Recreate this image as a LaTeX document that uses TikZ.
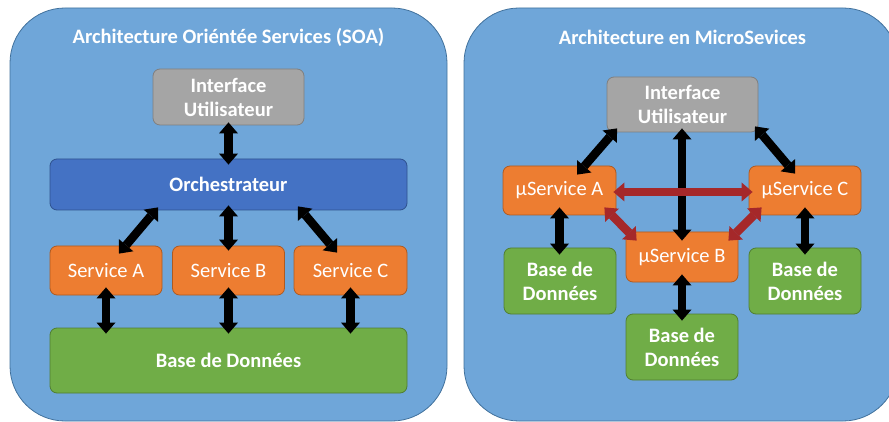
\documentclass[tikz,border=0pt]{standalone}
\usepackage{fontspec}
\setmainfont{Carlito}
\usetikzlibrary{arrows.meta,calc}
\definecolor{panelfill}{HTML}{6FA6D9}
\definecolor{paneledge}{HTML}{41719C}
\definecolor{uifill}{HTML}{A5A5A5}
\definecolor{uiedge}{HTML}{7F7F7F}
\definecolor{orchfill}{HTML}{4472C4}
\definecolor{orchedge}{HTML}{2F528F}
\definecolor{svcfill}{HTML}{ED7D31}
\definecolor{svcedge}{HTML}{AE5A21}
\definecolor{dbfill}{HTML}{70AD47}
\definecolor{dbedge}{HTML}{507E32}
\definecolor{arrowred}{HTML}{A5282A}
\tikzset{
  panel/.style={fill=panelfill, draw=paneledge, line width=0.8pt, rounded corners=55pt},
  paneltitle/.style={text=white, font=\fontsize{20.5}{24}\selectfont\bfseries},
  box/.style={rounded corners=7pt, line width=0.8pt, inner sep=0pt, text=white, align=center},
  uibox/.style={box, fill=uifill, draw=uiedge, font=\fontsize{20.5}{24}\selectfont\bfseries},
  orchbox/.style={box, fill=orchfill, draw=orchedge, font=\fontsize{20.5}{24}\selectfont\bfseries},
  svcbox/.style={box, fill=svcfill, draw=svcedge, font=\fontsize{20.5}{24}\selectfont},
  dbbox/.style={box, fill=dbfill, draw=dbedge, font=\fontsize{20.5}{24}\selectfont\bfseries},
  biarrow/.style={line width=8.5pt, draw=black,
    {Triangle[width=19pt,length=11pt,line width=0pt]}-{Triangle[width=19pt,length=11pt,line width=0pt]}},
  redarrow/.style={biarrow, draw=arrowred}
}
\begin{document}
\begin{tikzpicture}[x=1pt,y=-1pt]
\useasboundingbox (0,0) rectangle (889,422);
\begin{scope}
\clip (0,0) rectangle (889,422);
\draw[panel] (10,8) rectangle (447,421);
\draw[panel] (464,8) rectangle (898,421);
\end{scope}
\node[paneltitle] (t1) at (228.5,37) {Architecture Oriéntée Services (SOA)};
\node[paneltitle] (t2) at (682.5,37) {Architecture en MicroSevices};

% Left panel
\node[uibox, minimum width=151pt, minimum height=56pt] (iu) at (228.5,97) {Interface\\Utilisateur};
\node[orchbox, minimum width=357pt, minimum height=51pt] (orch) at (228.5,184.5) {Orchestrateur};
\node[svcbox, minimum width=112pt, minimum height=49pt] (sa) at (106,270.5) {Service A};
\node[svcbox, minimum width=112pt, minimum height=49pt] (sb) at (228.5,270.5) {Service B};
\node[svcbox, minimum width=113pt, minimum height=49pt] (sc) at (350.5,270.5) {Service C};
\node[dbbox, minimum width=357pt, minimum height=65pt] (db) at (228.5,360.5) {Base de Données};

\draw[biarrow] ($(iu.south)+(0,-3)$) -- ($(orch.north)+(0,6)$);
\draw[biarrow] ($(orch.south)+(-70.5,-3)$) -- ($(sa.north)+(13,8)$);
\draw[biarrow] ($(orch.south)+(0,-5)$) -- ($(sb.north)+(0,5)$);
\draw[biarrow] ($(orch.south)+(69.5,-4)$) -- ($(sc.north)+(-13.5,7)$);
\draw[biarrow] ($(sa.south)+(0,-8)$) -- ($(sa.south|-db.north)+(0,6)$);
\draw[biarrow] ($(sb.south)+(0,-8)$) -- ($(sb.south|-db.north)+(0,6)$);
\draw[biarrow] ($(sc.south)+(0,-8)$) -- ($(sc.south|-db.north)+(0,6)$);

% Right panel
\node[uibox, minimum width=151pt, minimum height=55pt] (iu2) at (682.5,104.5) {Interface\\Utilisateur};
\node[svcbox, minimum width=113pt, minimum height=49pt] (ma) at (559.5,190.5) {µService A};
\node[svcbox, minimum width=112pt, minimum height=49pt] (mc) at (805,190.5) {µService C};
\node[svcbox, minimum width=112pt, minimum height=50pt] (mb) at (682,257) {µService B};
\node[dbbox, minimum width=112pt, minimum height=66pt] (da) at (560,281) {Base de\\Données};
\node[dbbox, minimum width=112pt, minimum height=66pt] (dc) at (805,281) {Base de\\Données};
\node[dbbox, minimum width=112pt, minimum height=66pt] (dbb) at (682,347) {Base de\\Données};

\draw[biarrow] ($(iu2.south)+(-65.5,-4)$) -- ($(ma.north)+(17.5,9)$);
\draw[biarrow] ($(iu2.south)+(72.5,-6)$) -- ($(mc.north)+(-10,8)$);
\draw[biarrow] ($(iu2.south)+(-0.5,-4)$) -- ($(mb.north)+(0,9)$);
\draw[biarrow] ($(ma.south)+(0,-8)$) -- ($(ma.south|-da.north)+(0,7)$);
\draw[biarrow] ($(mc.south)+(0,-8)$) -- ($(mc.south|-dc.north)+(0,7)$);
\draw[biarrow] ($(mb.south)+(0,-8)$) -- ($(dbb.north)+(0,7)$);

\draw[redarrow] ($(ma.east)+(-3,1.5)$) -- ($(mc.west)+(4,1.5)$);
\draw[redarrow] ($(ma.south east)+(-12,-8)$) -- ($(mb.north west)+(11,9)$);
\draw[redarrow] ($(mc.south west)+(13,-8)$) -- ($(mb.north east)+(-10,9)$);
\end{tikzpicture}
\end{document}
